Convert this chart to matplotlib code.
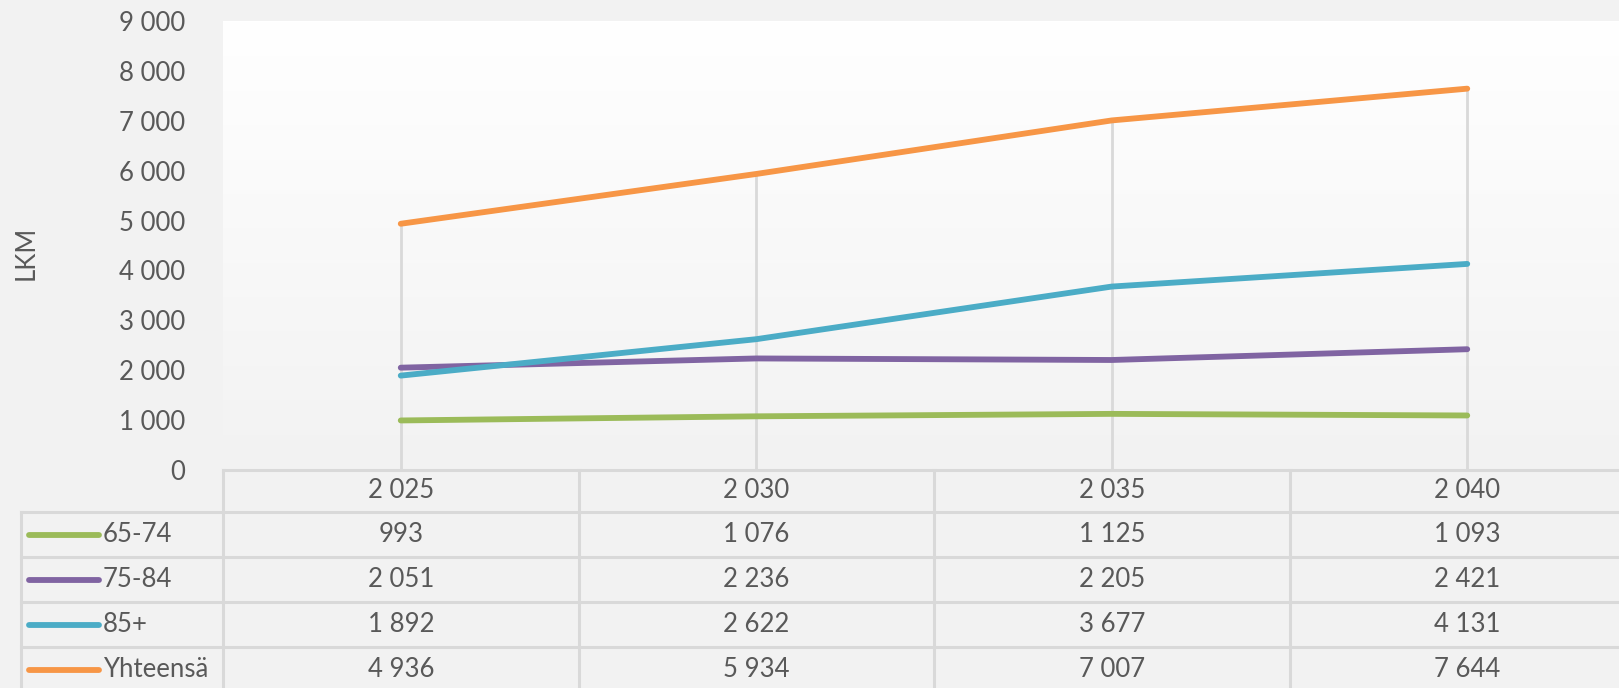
import numpy as np
import matplotlib
matplotlib.use("Agg")
from matplotlib import pyplot as plt

plt.rcParams['font.family'] = ['Lato', 'DejaVu Sans']

years = [2025, 2030, 2035, 2040]
series_names = ["65-74", "75-84", "85+", "Yhteensä"]
v_65_74 = [993, 1076, 1125, 1093]
v_75_84 = [2051, 2236, 2205, 2421]
v_85 = [1892, 2622, 3677, 4131]
v_total = [4936, 5934, 7007, 7644]
series_vals = [v_65_74, v_75_84, v_85, v_total]
colors = ["#9bbb59", "#8064a2", "#4bacc6", "#f79646"]
yticks = [0, 1000, 2000, 3000, 4000, 5000, 6000, 7000, 8000, 9000]

W, H = 1619, 688
bg = "#f2f2f2"
txt = "#595959"
grid_c = "#d9d9d9"
fs = 18.5


def fmt(v):
    return f"{v:,}".replace(",", " ")


fig = plt.figure(figsize=(W / 100, H / 100), dpi=100)
fig.patch.set_facecolor(bg)

# plot area (extends slightly past the right edge, like the original)
left, right, top, bottom = 223, 1645, 21, 470
ax = fig.add_axes([left / W, (H - bottom) / H, (right - left) / W, (bottom - top) / H])
ax.set_facecolor(bg)
x = np.arange(len(years))
ax.set_xlim(-0.5, len(years) - 0.5)
ax.set_ylim(0, 9000)

# gradient fill white -> light grey
grad = np.linspace(1.0, 0.0, 256).reshape(-1, 1)
cmap = matplotlib.colors.LinearSegmentedColormap.from_list("g", [bg, "#ffffff"])
ax.imshow(grad, extent=[-0.5, len(years) - 0.5, 0, 9000], aspect="auto",
          cmap=cmap, origin="upper", zorder=0)

# drop lines
tops = np.max(np.array(series_vals), axis=0)
ax.vlines(x, 0, tops, color=grid_c, lw=2, zorder=1)

for vals, c in zip(series_vals, colors):
    ax.plot(x, vals, color=c, lw=4.2, solid_capstyle="round", zorder=3)

for s in ax.spines.values():
    s.set_visible(False)
ax.set_xticks([])
ax.set_yticks(yticks)
ax.set_yticklabels([fmt(v) for v in yticks], color=txt, fontsize=fs)
ax.tick_params(axis="y", length=0, pad=27)
fig.text(26 / W, 1 - 253 / H, "LKM", rotation=90, ha="center", va="center",
         color=txt, fontsize=fs)

# data table
tl = 21
col_w = (right - left) / len(years)
tax = fig.add_axes([tl / W, 0, (right - tl) / W, (H - bottom) / H])
tax.set_xlim(-0.5 - (left - tl) / col_w, len(years) - 0.5)
tax.set_ylim(0, H - bottom)
tax.axis("off")
tax.patch.set_alpha(0)

head_h, row_h = 42, 45
y_top = H - bottom
y_head = y_top - head_h
xl = -0.5 - (left - tl) / col_w
xr = len(years) - 0.5
lkw = dict(color=grid_c, lw=2.2, clip_on=False)

tax.plot([-0.5, xr], [y_top, y_top], **lkw)
for i in range(len(series_names)):
    yy = y_head - i * row_h
    tax.plot([xl, xr], [yy, yy], **lkw)
tax.plot([xl, xl], [y_head, -10], **lkw)
for b in np.arange(len(years)) - 0.5:
    tax.plot([b, b], [y_top, -10], **lkw)

for j, yr in enumerate(years):
    tax.text(j, y_top - head_h / 2, fmt(yr), ha="center", va="center", color=txt, fontsize=fs)

key_x0 = xl + (29 - tl) / col_w
key_x1 = xl + (99 - tl) / col_w
lab_x = xl + (103 - tl) / col_w
for i, (name, vals, c) in enumerate(zip(series_names, series_vals, colors)):
    yc = y_head - (i + 0.5) * row_h
    tax.plot([key_x0, key_x1], [yc, yc], color=c, lw=4.2, solid_capstyle="round")
    tax.text(lab_x, yc, name, ha="left", va="center", color=txt, fontsize=fs)
    for j, v in enumerate(vals):
        tax.text(j, yc, fmt(v), ha="center", va="center", color=txt, fontsize=fs)

fig.savefig("out.png", dpi=100, facecolor=bg)
